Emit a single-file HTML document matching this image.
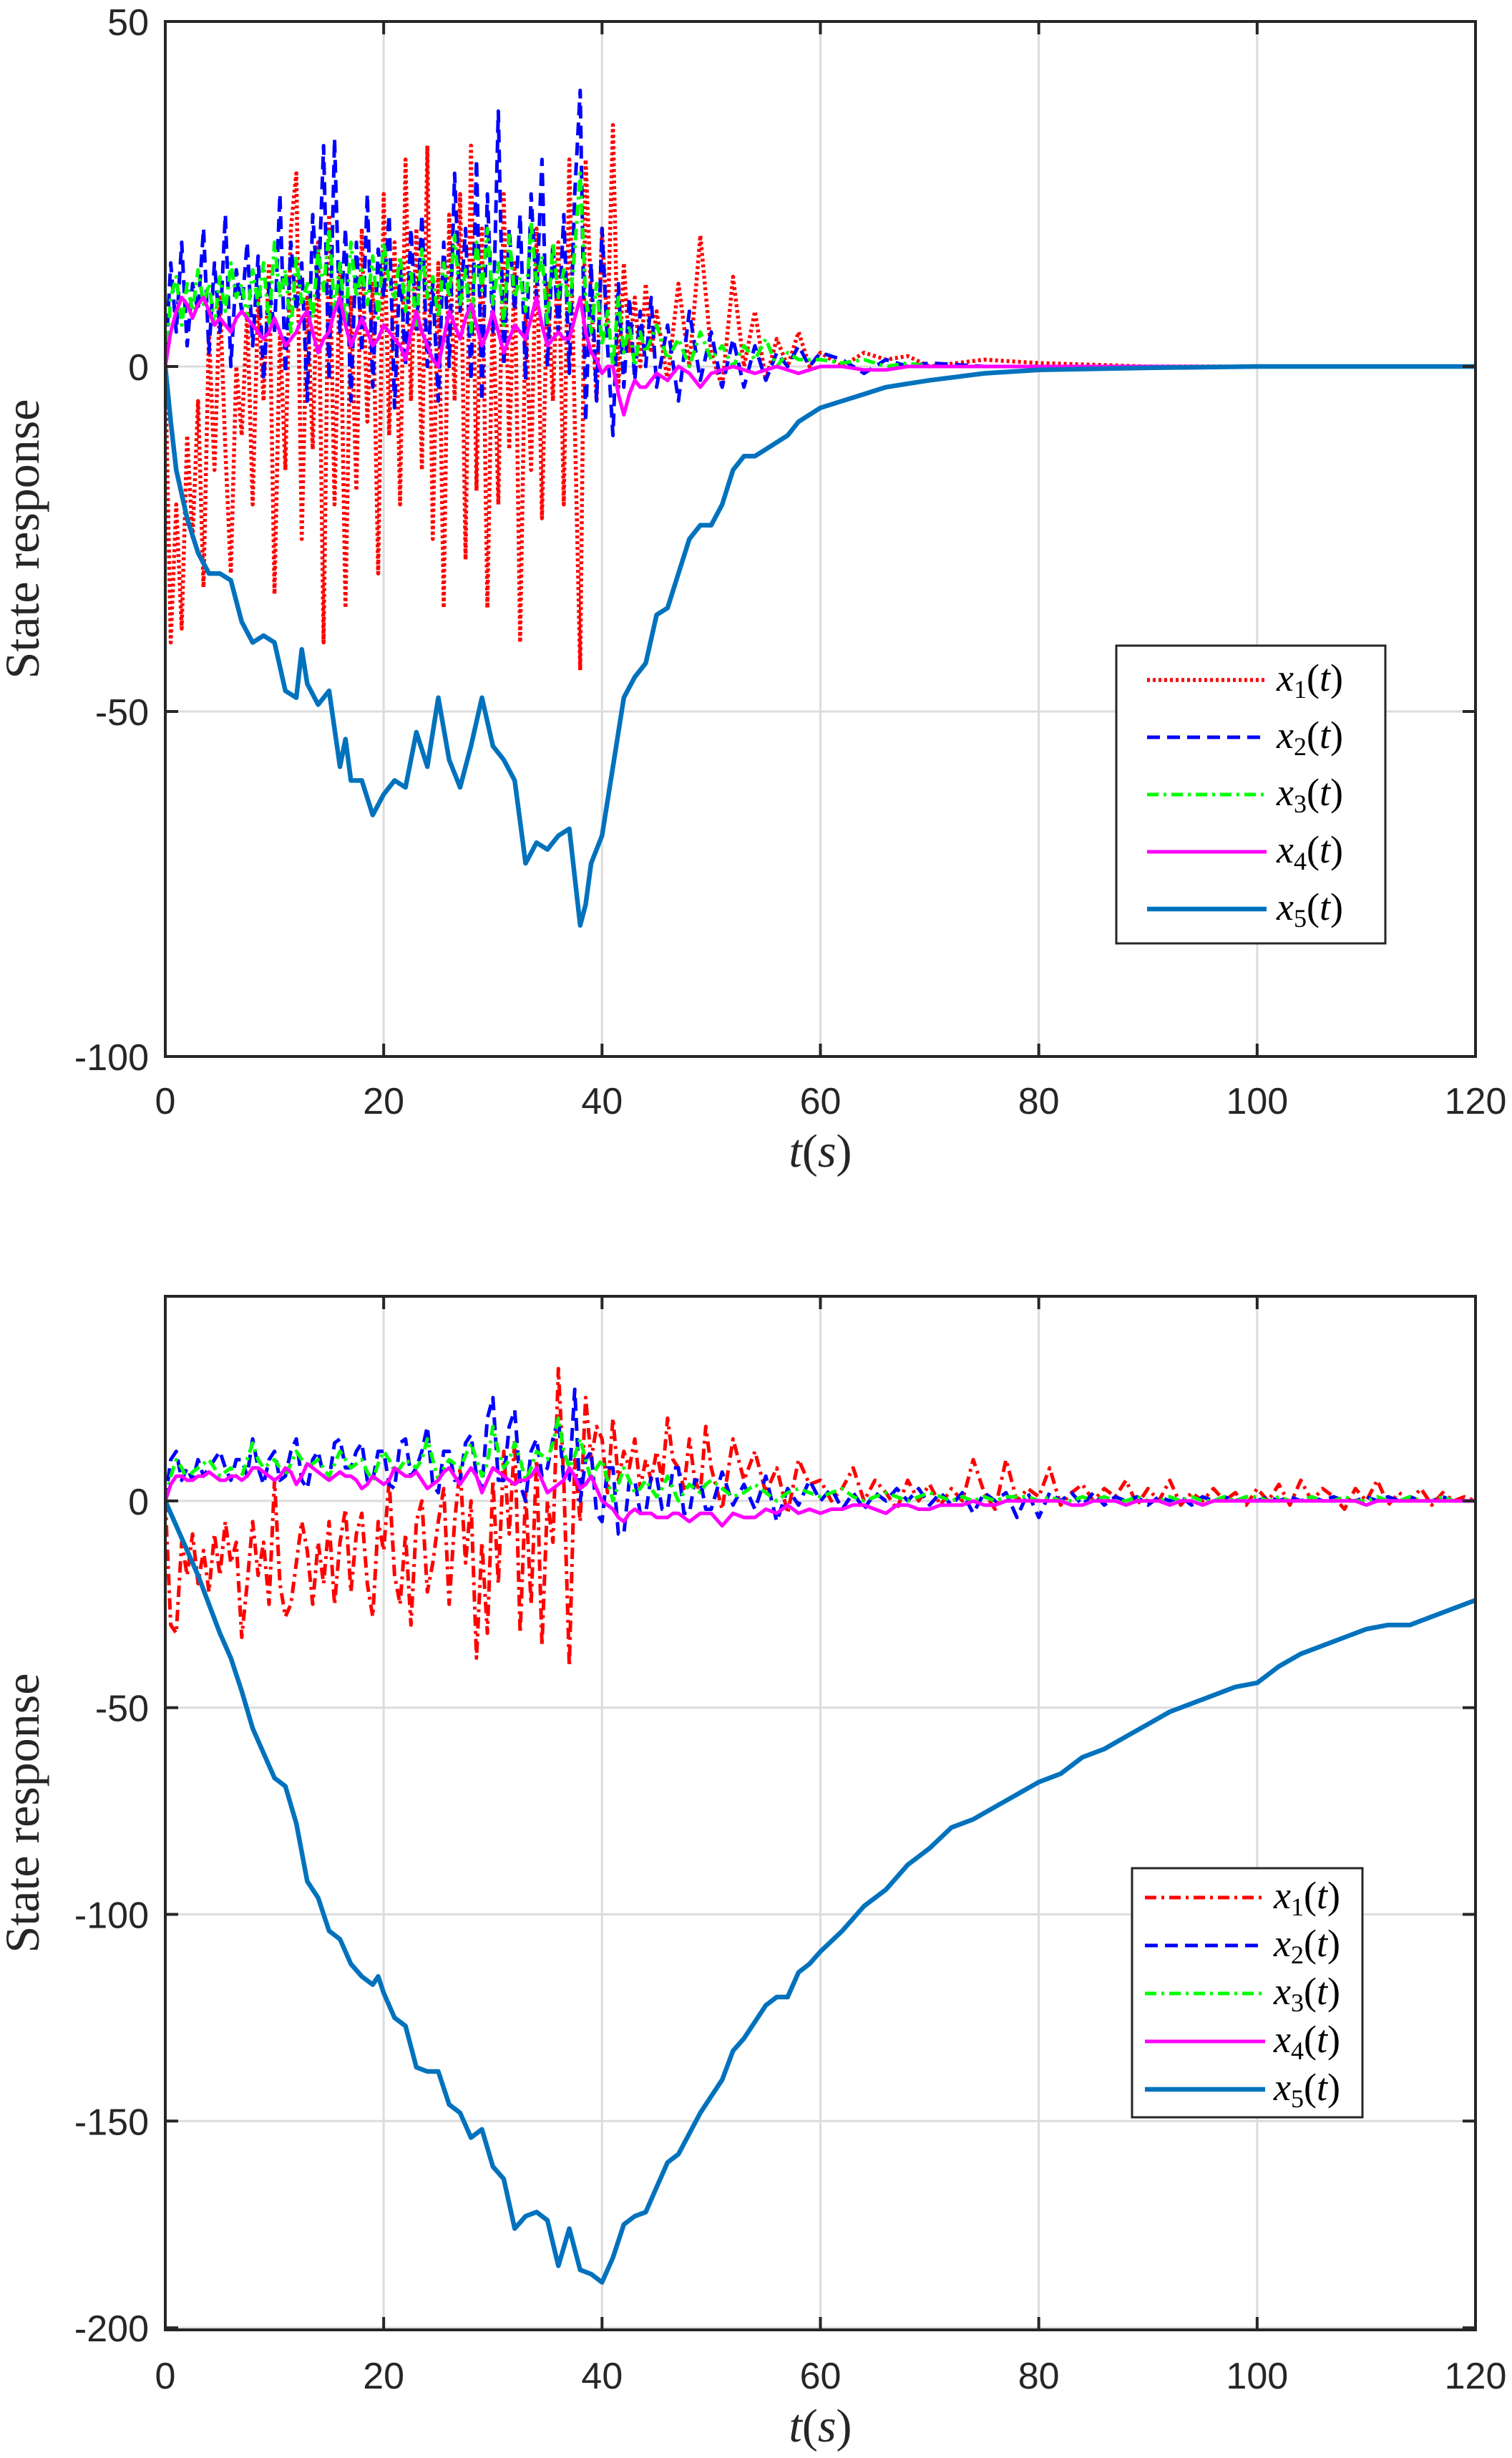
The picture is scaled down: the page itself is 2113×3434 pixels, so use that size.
<!DOCTYPE html>
<html><head><meta charset="utf-8"><style>
html,body{margin:0;padding:0;background:#fff;}
svg{display:block;}
</style></head><body>
<svg id="fig" width="2113" height="3434" viewBox="0 0 2113 3434" xmlns="http://www.w3.org/2000/svg">
<rect width="2113" height="3434" fill="#fff"/>
<g id="top"></g>
<g id="bot"></g>
</svg>
<script>
// ---------- TOP CHART DATA ----------
const xTicks = [0,20,40,60,80,100,120];
const yTicksTop = [50,0,-50,-100];
const yTicksBot = [0,-50,-100,-150,-200];
const seriesNames = ["x1","x2","x3","x4","x5"];
const tTopHead = [0,0.5,1,1.5,2,2.5,3,3.5,4,4.5,5,5.5,6,6.5,7,7.5,8,8.5,9,9.5,10,10.5,11,11.5,12,12.5,13,13.5,14,14.5,15,15.5,16,16.5,17,17.5,18,18.5,19,19.5,20,20.5,21,21.5,22,22.5,23,23.5,24,24.5,25,25.5,26,26.5,27,27.5,28,28.5,29,29.5,30,30.5,31,31.5,32,32.5,33,33.5,34,34.5,35,35.5,36,36.5,37,37.5,38,38.5,39,39.5,40,40.5,41,41.5,42,42.5,43,43.5,44,44.5,45];
const tTopTail = [46,47,48,49,50,51,52,53,54,55,56,57,58,59,60,62,64,66,68,70,75,80,90,97];
const x1Top = [0,-40,-20,-38,-10,-25,-5,-32,5,-15, 10,-12,-30,0,-10,8,-20,10,-5,15, -33,5,-15,20,28,-25,10,-12,18,-40, 22,-20,15,-35,10,-18,20,-8,12,-30, 25,-10,18,-20,30,-5,20,-15,32,-25, 15,-35,22,-5,25,-28,32,-18,20,-35, 10,-20,25,-12,15,-40,8,-15,20,-22, 12,-5,18,-20,30,-8,-44,30,10,-5, 20,5,35,-3,15,2,10,0,12,2, 8,
 -2,12,0,19,2,-3,13,0,8,-2,4,0,5,0,2, 0,2,1,1.5,0,1,0.5,0,0];
const x2Top = [0,15,5,18,3,12,8,20,2,15, 5,22,0,14,8,18,3,16,-2,12, 5,25,-1,18,8,15,-5,22,10,32, -2,33,5,20,-5,18,2,25,-3,17, 10,22,-6,15,0,20,5,22,0,12, -5,18,0,28,8,20,-2,30,-5,25, 5,37,0,20,8,22,-2,25,10,30, 0,18,5,22,-1,25,40,-8,15,-5, 20,3,-10,12,-3,10,-2,8,0,10, -3,
 6,-5,8,-2,5,-3,4,-3,3,-2,2,0,3,0,2, 1,-1,1,0,0.5,0,0,0,0];
const x3Top = [0,10,13,6,12,8,14,9,12,6, 13,8,15,10,12,7,14,9,15,6, 18,10,14,5,16,9,12,7,17,11, 20,8,15,6,18,10,14,9,16,7, 18,12,10,16,8,14,6,17,10,13, 7,15,10,19,9,14,5,18,11,20, 9,15,6,19,10,13,8,21,12,16, 6,18,10,14,8,17,28,10,5,12, 3,8,0,10,2,6,0,5,2,4, 6,
 1,4,0,5,1,3,0,3,1,4,0,2,1,1,1, 0.5,1,0,0.5,0,0,0,0,0];
const x4Top = [0,5,8,10,9,7,9,10,8,6, 7,6,5,7,8,7,6,5,4,5, 7,5,3,4,5,7,8,5,2,4, 5,8,10,6,3,5,7,5,3,4, 6,5,4,3,1,5,8,5,3,1, 0,4,8,6,4,7,9,6,3,5, 8,5,2,4,6,5,4,7,10,6, 3,4,5,4,4,7,10,5,2,1, -1,0,0,-4,-7,-4,-2,-3,-3,-2, -1,
 -2,0,-1,-3,-1,-0.5,0,-0.5,-1,-0.5,0,-0.5,-1,-0.5,0, 0,-0.5,-0.5,0,0,0,0,0,0];
const t5Top = [0,0.5,1,2,3,4,5,6,7,8,9,10,11,12,12.5,13,14,15,16,16.5,17,18,19,20,21,22,23,24,25,26,27,28,29,30,31,32,33,34,35,36,37,38,38.5,39,40,41,42,43,44,45,46,47,48,49,50,51,52,53,54,55,56,57,58,59,60,62,64,66,68,70,75,80,90,100,120];
const x5Top = [0,-8,-15,-22,-27,-30,-30,-31,-37,-40,-39,-40,-47,-48,-41,-46,-49,-47,-58,-54,-60,-60,-65,-62,-60,-61,-53,-58,-48,-57,-61,-55,-48,-55,-57,-60,-72,-69,-70,-68,-67,-81,-78,-72,-68,-58,-48,-45,-43,-36,-35,-30,-25,-23,-23,-20,-15,-13,-13,-12,-11,-10,-8,-7,-6,-5,-4,-3,-2.5,-2,-1,-0.5,-0.2,0,0];

// ---------- BOTTOM CHART DATA ----------
const tBotHead = [0,0.5,1,1.5,2,2.5,3,3.5,4,4.5,5,5.5,6,6.5,7,7.5,8,8.5,9,9.5,10,10.5,11,11.5,12,12.5,13,13.5,14,14.5,15,15.5,16,16.5,17,17.5,18,18.5,19,19.5,20,20.5,21,21.5,22,22.5,23,23.5,24,24.5,25,25.5,26,26.5,27,27.5,28,28.5,29,29.5,30,30.5,31,31.5,32,32.5,33,33.5,34,34.5,35,35.5,36,36.5,37,37.5,38,38.5,39,39.5,40,40.5,41,41.5,42,42.5,43,43.5,44,44.5,45,45.5,46,46.5,47,47.5,48,48.5,49,49.5,50];
const tBotTail = [51,52,53,54,55,56,57,58,59,60,61,62,63,64,65,66,67,68,69,70,71,72,73,74,75,76,77,78,79,80,81,82,83,84,85,86,87,88,89,90,91,92,93,94,95,96,97,98,99,100,101,102,103,104,105,106,107,108,109,110,111,112,113,114,115,116,117,118,119,120];
const x1Bot = [0,-30,-32,-10,-18,-8,-20,-12,-22,-8, -18,-5,-15,-10,-33,-20,-5,-18,-10,-25, 5,-20,-28,-25,-15,-5,-12,-25,-10,-20, -5,-25,-10,-2,-22,-8,-3,-20,-28,-5, -12,5,-18,-25,-8,-30,-5,0,-22,-15, -5,3,-25,-5,8,-15,0,-38,-10,-32, 5,-20,12,-8,15,-32,2,-25,10,-35, 0,-10,32,5,-40,10,-5,25,10,18, 15,2,20,5,12,8,15,3,10,5, 12,5,20,10,8,3,15,5,2,18, 8,
 -2,15,5,12,2,8,-3,10,4,5, 0,3,8,0,5,2,-2,5,0,4, -1,3,0,10,2,-2,10,0,3,1, 8,-1,2,4,0,3,1,5,-1,3, 0,5,-1,2,0,3,0,2,-1,3, 0,4,-1,5,0,3,1,-2,3,0, 5,-1,2,0,3,-1,2,0,1,0];
const x2Bot = [0,10,12,5,8,5,10,6,8,10, 12,8,5,10,10,6,15,8,4,10, 12,5,6,12,15,5,3,10,12,6, 5,14,15,8,8,12,14,5,5,12, 12,4,3,14,15,6,8,12,18,4, 2,12,12,5,5,14,16,6,3,20, 25,5,5,18,22,4,0,12,15,6, 8,15,20,5,5,27,0,10,12,-3, -5,8,8,-8,-8,5,5,-3,-3,6, 6,-2,-2,8,8,-3,-3,5,5,-2, -2,
 7,-1,4,-2,6,-5,3,-1,5,0, 3,-2,2,-2,2,0,3,0,3,-1, 2,-1,2,-3,2,0,2,-4,2,-4, 2,0,2,-1,2,-1,1,0,1,-1, 1,0,1,-1,1,0,1,0,1,0, 1,0,1,0,1,0,1,0,0,1, 0,1,0,1,0,0,1,0,0,0];
const x3Bot = [0,6,10,8,5,7,8,9,10,8, 6,7,8,6,6,10,14,10,8,9, 10,8,6,9,12,10,8,9,10,8, 6,9,12,10,8,9,10,7,5,9, 12,10,7,8,10,9,8,10,15,10, 5,8,10,9,8,11,14,10,6,9, 18,12,8,10,14,10,5,8,12,11, 10,14,20,12,8,11,15,10,5,8, 10,5,0,4,8,5,2,3,5,3, 1,3,6,3,0,2,4,3,2,4, 5,
 3,1,2,4,2,0,2,3,2,1, 2,3,1,0,1,2,1,0,1,2, 1,0,1,0,1,0,1,1,1,0, 1,0,0,1,0,1,0,0,1,0, 0,1,0,1,0,0,1,0,1,1, 0,1,0,0,1,0,0,1,0,0, 1,0,0,1,0,0,1,0,0,0];
const x4Bot = [0,4,6,6,5,5,6,6,7,6, 5,5,6,6,5,6,8,8,7,6, 5,6,8,7,4,6,9,8,7,6, 5,6,7,6,6,5,3,4,6,5, 4,5,8,7,6,6,7,5,3,4, 5,7,8,6,4,6,8,6,2,5, 8,7,6,5,4,5,5,6,8,5, 2,3,4,5,8,6,3,4,6,3, 0,-1,-2,-4,-5,-3,-2,-3,-3,-3, -4,-4,-4,-3,-3,-4,-5,-4,-3,-3, -3,
 -6,-3,-4,-4,-2,-3,-1,-3,-2,-3, -2,-2,-1,-1,-2,-3,-1,-1,-2,-2, -1,-1,-1,0,-1,-1,0,0,0,0, 0,0,-1,-1,0,0,0,-1,0,0, 0,-1,0,0,-1,0,0,0,0,0, 0,0,0,0,0,0,0,0,0,-1, 0,0,0,0,0,0,0,0,0,0];
const t5Bot = [0,1,2,3,4,5,6,7,8,9,10,11,12,13,14,15,16,17,18,19,19.5,20,21,22,23,24,25,26,27,28,29,30,31,32,33,34,35,36,37,38,39,40,41,42,43,44,45,46,47,48,49,50,51,52,53,54,55,56,57,58,59,60,62,64,66,68,70,72,74,76,78,80,82,84,86,88,90,92,94,96,98,100,102,104,106,108,110,112,114,116,118,120];
const x5Bot = [0,-6,-12,-18,-25,-32,-38,-46,-55,-61,-67,-69,-78,-92,-96,-104,-106,-112,-115,-117,-115,-119,-125,-127,-137,-138,-138,-146,-148,-154,-152,-161,-164,-176,-173,-172,-174,-185,-176,-186,-187,-189,-183,-175,-173,-172,-166,-160,-158,-153,-148,-144,-140,-133,-130,-126,-122,-120,-120,-114,-112,-109,-104,-98,-94,-88,-84,-79,-77,-74,-71,-68,-66,-62,-60,-57,-54,-51,-49,-47,-45,-44,-40,-37,-35,-33,-31,-30,-30,-28,-26,-24];

const NS = "http://www.w3.org/2000/svg";
const styles = {
  x1top:{c:"#ff0000",w:5.5,d:"4 4"},
  x1bot:{c:"#ff0000",w:5,d:"16 7 4 7"},
  x2:{c:"#0000ff",w:5,d:"18 10"},
  x3:{c:"#00ff00",w:5,d:"16 7 4 7"},
  x4:{c:"#ff00ff",w:5,d:""},
  x5:{c:"#0072bd",w:6.5,d:""}
};
function mk(tag, attrs, parent){
  const e = document.createElementNS(NS, tag);
  for (const k in attrs) e.setAttribute(k, attrs[k]);
  parent.appendChild(e);
  return e;
}
function drawChart(g, cfg){
  const L=231, R=2062, T=cfg.top, B=cfg.bottom;
  const sx = t => L + (t-0)/120*(R-L);
  const sy = v => T + (cfg.ymax - v)/(cfg.ymax - cfg.ymin)*(B-T);
  for (const xt of xTicks){
    const gl = mk("line",{x1:sx(xt),x2:sx(xt),y1:T,y2:B,stroke:"#dcdcdc","stroke-width":3},g);
    
    
  }
  for (const yt of cfg.yticks){
    const gl = mk("line",{x1:L,x2:R,y1:sy(yt),y2:sy(yt),stroke:"#dcdcdc","stroke-width":3},g);
    
    
  }
  const clipId = cfg.id+"clip";
  const cp = mk("clipPath",{id:clipId},g);
  mk("rect",{x:L,y:T,width:R-L,height:B-T},cp);
  const sg = mk("g",{"clip-path":"url(#"+clipId+")"},g);
  
  
  cfg.series.forEach(s=>{
    let d="";
    const n=Math.min(s.t.length,s.v.length);
    for(let i=0;i<n;i++) d += (i?"L":"M")+sx(s.t[i]).toFixed(1)+","+sy(s.v[i]).toFixed(1);
    const p = mk("path",{d:d,fill:"none",stroke:s.st.c,"stroke-width":s.st.w,"stroke-dasharray":s.st.d,"stroke-linejoin":"round"},sg);
    
    
  });
  const box = mk("rect",{x:L,y:T,width:R-L,height:B-T,fill:"none",stroke:"#262626","stroke-width":4},g);
  
  
  for (const xt of xTicks){
    mk("line",{x1:sx(xt),x2:sx(xt),y1:B,y2:B-18,stroke:"#262626","stroke-width":4},g);
    mk("line",{x1:sx(xt),x2:sx(xt),y1:T,y2:T+18,stroke:"#262626","stroke-width":4},g);
    const tx = mk("text",{x:sx(xt),y:cfg.xlabY,"text-anchor":"middle","font-family":"Liberation Sans, sans-serif","font-size":52,fill:"#262626"},g);
    tx.textContent = xt;
    
    
  }
  for (const yt of cfg.yticks){
    mk("line",{x1:L,x2:L+18,y1:sy(yt),y2:sy(yt),stroke:"#262626","stroke-width":4},g);
    mk("line",{x1:R,x2:R-18,y1:sy(yt),y2:sy(yt),stroke:"#262626","stroke-width":4},g);
    const tx = mk("text",{x:208,y:sy(yt)+19,"text-anchor":"end","font-family":"Liberation Sans, sans-serif","font-size":52,fill:"#262626"},g);
    tx.textContent = yt;
    
    
  }
  const xl = mk("text",{x:(L+R)/2,y:cfg.xtitleY,"text-anchor":"middle","font-family":"Liberation Serif, serif","font-size":66,fill:"#262626"},g);
  xl.innerHTML = '<tspan font-style="italic">t</tspan>(<tspan font-style="italic">s</tspan>)';
  
  
  const yc=(T+B)/2;
  const yl = mk("text",{x:54,y:yc,"text-anchor":"middle","font-family":"Liberation Serif, serif","font-size":68,fill:"#262626",transform:"rotate(-90 54 "+yc+")"},g);
  yl.textContent = "State response";
  
  
  const lg = mk("g",{},g);
  
  
  mk("rect",{x:cfg.leg.x,y:cfg.leg.y,width:cfg.leg.w,height:cfg.leg.h,fill:"#fff",stroke:"#262626","stroke-width":3},lg);
  cfg.series.forEach((s,i)=>{
    const yy = cfg.leg.y0 + i*cfg.leg.dy;
    const e = mk("g",{},lg);
    
    
    mk("line",{x1:cfg.leg.lx1,x2:cfg.leg.lx2,y1:yy,y2:yy,stroke:s.st.c,"stroke-width":s.st.w,"stroke-dasharray":s.st.d},e);
    const tx = mk("text",{x:cfg.leg.tx,y:yy+15,"font-family":"Liberation Serif, serif","font-size":54,fill:"#000"},e);
    tx.innerHTML = '<tspan font-style="italic">x</tspan><tspan font-size="36" dy="10">'+(i+1)+'</tspan><tspan dy="-10">(</tspan><tspan font-style="italic">t</tspan>)';
  });
}
drawChart(document.getElementById("top"),{
  id:"top", top:30, bottom:1476, ymax:50, ymin:-100, yticks:yTicksTop,
  xlabY:1556, xtitleY:1630,
  series:[
    {name:seriesNames[0],t:tTopHead.concat(tTopTail),v:x1Top,st:styles.x1top},
    {name:seriesNames[1],t:tTopHead.concat(tTopTail),v:x2Top,st:styles.x2},
    {name:seriesNames[2],t:tTopHead.concat(tTopTail),v:x3Top,st:styles.x3},
    {name:seriesNames[3],t:tTopHead.concat(tTopTail),v:x4Top,st:styles.x4},
    {name:seriesNames[4],t:t5Top,v:x5Top,st:styles.x5}
  ],
  leg:{x:1560,y:902,w:376,h:416,y0:950,dy:80,lx1:1603,lx2:1770,tx:1784}
});
drawChart(document.getElementById("bot"),{
  id:"bot", top:1811, bottom:3255, ymax:49.5, ymin:-200.5, yticks:yTicksBot,
  xlabY:3337, xtitleY:3411,
  series:[
    {name:seriesNames[0],t:tBotHead.concat(tBotTail),v:x1Bot,st:styles.x1bot},
    {name:seriesNames[1],t:tBotHead.concat(tBotTail),v:x2Bot,st:styles.x2},
    {name:seriesNames[2],t:tBotHead.concat(tBotTail),v:x3Bot,st:styles.x3},
    {name:seriesNames[3],t:tBotHead.concat(tBotTail),v:x4Bot,st:styles.x4},
    {name:seriesNames[4],t:t5Bot,v:x5Bot,st:styles.x5}
  ],
  leg:{x:1582,y:2610,w:322,h:348,y0:2651,dy:67,lx1:1600,lx2:1768,tx:1780}
});
</script>
</body></html>
